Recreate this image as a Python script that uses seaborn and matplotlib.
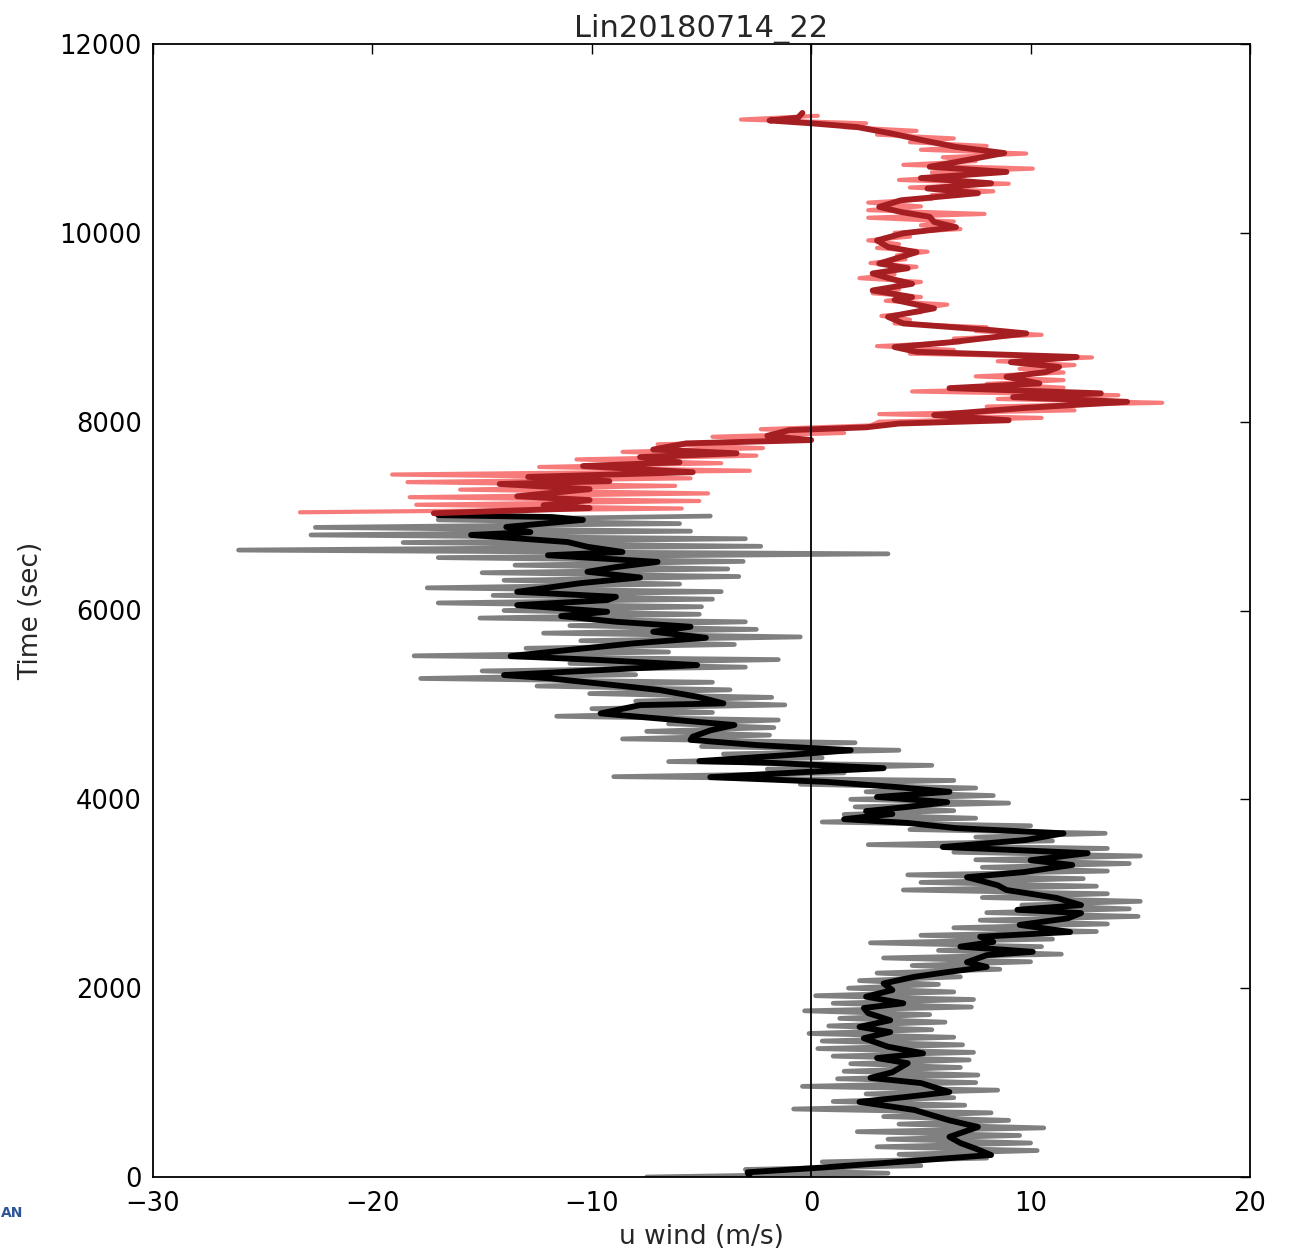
import numpy as np
import pandas as pd
import matplotlib
matplotlib.use("Agg")
import matplotlib.pyplot as plt
import seaborn as sns

# ---------------- data ----------------
# smoothed profile, ascent part (black)
black_t = [0, 50, 100, 160, 233, 300, 360, 425, 530, 600, 710, 795, 850, 900, 995,
           1050, 1110, 1205, 1260, 1310, 1380, 1470, 1535, 1590, 1660, 1735, 1790,
           1840, 1910, 1980, 2050, 2120, 2170, 2225, 2275, 2350, 2385, 2440, 2490,
           2545, 2595, 2670, 2740, 2795, 2830, 2880, 2955, 3040, 3090, 3175, 3230,
           3305, 3355, 3430, 3495, 3570, 3640, 3695, 3750, 3790, 3845, 3875, 3920,
           3970, 4025, 4080, 4130, 4185, 4235, 4290, 4330, 4385, 4405, 4470, 4520,
           4575, 4630, 4663, 4730, 4787, 4857, 4910, 4998, 5016, 5087, 5157, 5210,
           5281, 5316, 5369, 5422, 5475, 5517, 5581, 5652, 5711, 5775, 5828, 5881,
           5941, 5987, 6057, 6110, 6145, 6198, 6290, 6350, 6410, 6460, 6515, 6585,
           6620, 6675, 6725, 6800, 6830, 6885, 6960, 6990, 7010]
black_u = [-2.8, -2.9, 0.5, 4.0, 8.2, 7.5, 6.8, 6.3, 7.6, 6.3, 4.7, 2.2, 4.4, 6.3, 5.0,
           2.7, 3.7, 4.4, 3.0, 5.1, 3.5, 2.4, 3.6, 2.2, 3.6, 2.6, 2.4,
           4.2, 2.5, 3.7, 3.3, 4.7, 6.2, 8.0, 7.1, 8.0, 10.1, 6.8, 8.3,
           7.7, 11.8, 9.5, 11.7, 12.3, 9.4, 12.3, 11.2, 8.9, 8.5, 7.1, 9.7,
           11.9, 10.0, 12.6, 6.0, 9.8, 11.5, 6.6, 4.4, 1.5, 3.7, 2.5, 4.4,
           6.2, 3.0, 6.3, 3.9, 0.7, -4.6, -0.2, 3.3, -1.7, -5.1, -1.0, 1.8,
           -2.5, -5.5, -5.4, -4.6, -3.5, -7.0, -9.6, -7.8, -4.0, -5.2, -6.9, -9.0,
           -11.9, -14.0, -9.6, -5.2, -9.6, -13.7, -11.1, -8.1, -4.8, -7.2, -5.5, -8.9,
           -11.4, -9.3, -13.4, -9.3, -8.9, -13.4, -10.5, -7.8, -10.2, -8.9, -7.0, -12.0,
           -8.6, -10.2, -11.1, -15.5, -12.8, -13.9, -10.4, -11.8, -17.0]

# raw profile, ascent part (grey): left excursions at t = 0, 80, ...; right at t = 40, 120, ...
grey_left = [-7.5, -3.0, 0.5, 4.0, 3.0, 3.5, 2.1, 4.0, 3.3, -0.8,
             1.0, 2.5, -0.4, 1.2, 1.5, 1.8, 1.0, 0.3, 0.5, -0.1,
             0.8, 1.3, -0.3, 1.0, 0.2, 1.7, 2.2, 3.0, 4.6, 3.3,
             5.8, 2.7, 5.0, 6.5, 7.7, 8.0, 9.6, 7.8, 4.2, 5.0,
             4.4, 7.8, 7.5, 6.5, 2.6, 7.5, 4.5, 0.5, 1.5, 2.0,
             1.8, 2.5, -0.5, -9.0, -2.0, -6.5, -4.0, -5.0, -8.6, -7.5,
             -6.5, -11.6, -10.0, -8.0, -10.1, -12.5, -17.8, -15.0, -11.0, -18.1,
             -13.0, -10.5, -12.2, -11.0, -15.1, -14.0, -17.0, -14.5, -17.5, -14.0,
             -15.0, -13.5, -17.0, -26.1, -18.6, -22.8, -22.6, -17.0]
grey_right = [3.5, 5.0, 8.0, 10.3, 10.0, 9.5, 10.6, 9.0, 8.2, 7.0,
              6.5, 8.5, 7.5, 7.6, 6.8, 7.2, 7.4, 6.9, 6.5, 5.5,
              6.1, 5.4, 7.3, 7.4, 6.5, 5.8, 6.8, 8.6, 10.0, 11.4,
              10.5, 11.0, 13.0, 13.5, 14.9, 14.5, 15.0, 13.5, 13.0, 12.4,
              13.5, 14.5, 15.0, 13.5, 11.0, 13.4, 10.0, 7.5, 6.5, 9.0,
              8.3, 7.5, 6.5, 1.5, 5.5, 0.5, 4.0, 2.0, -1.9, -1.7,
              -1.5, -4.5, -1.2, -1.8, -3.7, -4.5, -8.0, -3.0, -1.5, -6.5,
              -3.5, -0.5, -2.5, -3.0, -5.1, -5.0, -4.5, -4.1, -6.0, -3.3,
              -3.8, -3.1, 3.5, -2.3, -3.0, -5.5, -6.0, -4.6]

# smoothed profile, descent part (dark red)
red_t = [7030, 7063, 7085, 7115, 7170, 7210, 7285, 7340, 7370, 7415, 7465, 7530,
         7570, 7625, 7665, 7705, 7770, 7805, 7850, 7910, 7940, 7980, 8015, 8070,
         8145, 8210, 8260, 8300, 8355, 8405, 8475, 8525, 8580, 8630, 8685, 8740,
         8790, 8840, 8935, 8970, 9040, 9110, 9200, 9290, 9320, 9390, 9460, 9515,
         9570, 9625, 9675, 9745, 9795, 9850, 9920, 9995, 10060, 10115, 10170,
         10220, 10275, 10345, 10420, 10470, 10525, 10580, 10645, 10700, 10750,
         10845, 10910, 10980, 11055, 11120, 11160, 11190, 11220, 11270]
red_u = [-17.2, -13.0, -10.1, -12.2, -10.1, -13.4, -10.1, -14.2, -9.2, -12.9, -5.4, -10.4,
         -6.0, -7.8, -3.4, -7.2, -5.7, 0.0, -2.0, -1.0, 2.5, 4.0, 9.0, 5.6,
         9.7, 14.4, 9.2, 13.2, 6.3, 10.4, 8.9, 10.7, 11.3, 9.1, 12.1, 4.8,
         3.8, 6.3, 9.8, 8.2, 4.2, 3.5, 5.6, 3.8, 4.6, 2.8, 4.6, 3.6,
         2.8, 4.4, 3.1, 4.1, 4.8, 3.5, 3.0, 4.2, 6.6, 5.6, 5.4,
         4.1, 3.1, 4.1, 7.6, 5.3, 8.2, 5.0, 8.9, 5.4, 6.6,
         8.8, 6.6, 5.1, 3.6, 2.1, 0.0, -1.9, -0.6, -0.4]

# raw profile, descent part (light red): left at t = 7040, 7120, ...; right at 7080, 7160, ...
pink_left = [-23.3, -18.0, -18.3, -16.0, -18.4, -19.1, -12.4, -10.7, -8.6, -7.0,
             -4.5, -2.3, 3.1, 3.1, 8.0, 8.5, 4.6, 8.0, 7.5, 9.5,
             8.5, 4.5, 3.0, 6.5, 7.5, 3.8, 3.2, 5.0, 3.4, 2.8,
             3.8, 2.2, 3.5, 2.7, 3.9, 3.0, 2.6, 3.8, 5.0, 2.6,
             2.6, 2.6, 5.5, 4.5, 4.0, 5.5, 4.2, 6.0, 5.0, 4.5,
             3.0, 1.5, -3.2]
pink_right = [-5.9, -5.1, -4.7, -6.2, -5.5, -2.8, -4.1, -2.5, -2.2, -0.6,
              1.5, 2.7, 10.5, 12.0, 16.0, 14.0, 11.5, 11.5, 11.5, 12.0,
              12.8, 6.5, 6.8, 10.5, 8.0, 4.5, 5.0, 6.2, 5.0, 4.0,
              5.0, 3.8, 4.8, 4.3, 5.3, 4.0, 4.5, 6.8, 6.5, 7.9,
              5.0, 5.5, 8.3, 9.0, 7.0, 10.1, 7.5, 9.8, 8.0, 6.5,
              4.8, 2.5, 0.3]

title = "Lin20180714_22"
xlabel = "u wind (m/s)"
ylabel = "Time (sec)"
xticks = [-30, -20, -10, 0, 10, 20]
yticks = [0, 2000, 4000, 6000, 8000, 10000, 12000]


def interleave(left, right, t0, dt):
    u = np.empty(len(left) + len(right))
    u[0::2] = left
    u[1::2] = right
    t = t0 + dt * np.arange(len(u))
    return t, u


grey_t, grey_u = interleave(grey_left, grey_right, 0, 40)
pink_t, pink_u = interleave(pink_left, pink_right, 7040, 40)

df_grey = pd.DataFrame({"u": grey_u, "t": grey_t})
df_black = pd.DataFrame({"u": black_u, "t": black_t})
df_pink = pd.DataFrame({"u": pink_u, "t": pink_t})
df_red = pd.DataFrame({"u": red_u, "t": red_t})

# ---------------- style ----------------
sns.set_theme(style="white")
plt.rcParams["font.family"] = ["DejaVu Sans"]
plt.rcParams["axes.edgecolor"] = "black"
plt.rcParams["axes.linewidth"] = 1.3
plt.rcParams["lines.solid_joinstyle"] = "round"
plt.rcParams["lines.solid_capstyle"] = "round"

fig = plt.figure(figsize=(12.91, 12.52), dpi=100)
ax = fig.add_axes([153 / 1291, 1 - 1177 / 1252, (1250 - 153) / 1291, (1177 - 44) / 1252])

kw = dict(x="u", y="t", sort=False, estimator=None, ax=ax, legend=False)
sns.lineplot(data=df_grey, color="#808080", linewidth=3.4, zorder=2, **kw)
sns.lineplot(data=df_black, color="black", linewidth=4.2, zorder=3, **kw)
sns.lineplot(data=df_pink, color="#f77b7b", linewidth=3.0, zorder=4, **kw)
sns.lineplot(data=df_red, color="#a51e22", linewidth=4.2, zorder=5, **kw)
ax.axvline(0, color="black", linewidth=1.3, zorder=6)

ax.set_xlim(-30, 20)
ax.set_ylim(0, 12000)
ax.set_xticks(xticks)
ax.set_yticks(yticks)
ax.tick_params(direction="in", length=7, width=1, top=True, right=True,
               labelsize=18.5, colors="black")
ax.tick_params(axis="x", pad=10)
ax.tick_params(axis="y", pad=8)
ax.set_title(title, fontsize=22, pad=5)
ax.set_xlabel(xlabel, fontsize=19, labelpad=5)
ax.set_ylabel(ylabel, fontsize=19, labelpad=11)
for s in ax.spines.values():
    s.set_visible(True)
    s.set_color("black")

fig.text(1 / 1291, 1 - 1213 / 1252, "AN", ha="left", va="center",
         color="#2f5597", fontsize=10, fontweight="bold")

fig.savefig("out.png", dpi=100, facecolor="white")
